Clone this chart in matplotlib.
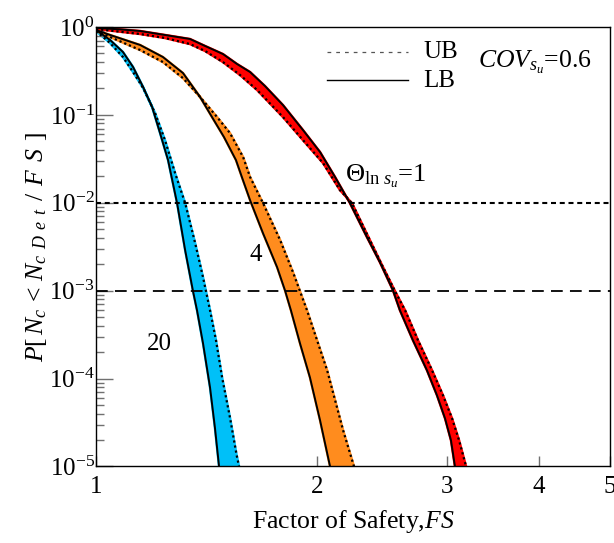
import matplotlib
matplotlib.use("Agg")
import matplotlib.pyplot as plt
from matplotlib.ticker import FixedLocator, NullLocator, LogLocator, NullFormatter

plt.rcParams['font.family'] = ['Liberation Serif', 'DejaVu Serif']
plt.rcParams['mathtext.fontset'] = 'custom'
plt.rcParams['mathtext.rm'] = 'Liberation Serif'
plt.rcParams['mathtext.it'] = 'Liberation Serif:italic'
plt.rcParams['mathtext.bf'] = 'Liberation Serif:bold'

# ---- data ----
# Theta = 20 (cyan)
fs20_lb = [1.000, 1.045, 1.088, 1.123, 1.159, 1.192, 1.222, 1.253, 1.289, 1.322, 1.355, 1.372, 1.398, 1.429, 1.451, 1.470]
p20_lb = [0.925, 0.711, 0.519, 0.350, 0.207, 0.123, 0.0621, 0.0306, 0.00989, 0.00288, 9.84e-4, 5.98e-4, 2.52e-4, 7.94e-5, 2.78e-5, 1.0e-5]
fs20_ub = [1.000, 1.045, 1.088, 1.123, 1.159, 1.203, 1.241, 1.281, 1.322, 1.364, 1.398, 1.429, 1.456, 1.484, 1.521, 1.553, 1.565]
p20_ub = [0.900, 0.657, 0.455, 0.307, 0.202, 0.105, 0.0516, 0.0217, 0.00989, 0.00347, 0.00142, 5.98e-4, 2.72e-4, 1.03e-4, 3.61e-5, 1.35e-5, 1.0e-5]

# Theta = 4 (orange)
fs4_lb = [1.000, 1.045, 1.148, 1.233, 1.313, 1.385, 1.438, 1.493, 1.550, 1.579, 1.620, 1.687, 1.763, 1.807, 1.841, 1.894, 1.954, 2.017, 2.081]
p4_lb = [0.925, 0.811, 0.624, 0.455, 0.299, 0.160, 0.0944, 0.0559, 0.0306, 0.0196, 0.0107, 0.00450, 0.00185, 0.00101, 5.98e-4, 2.52e-4, 1.03e-4, 3.34e-5, 1.0e-5]
fs4_ub = [1.000, 1.045, 1.148, 1.233, 1.313, 1.385, 1.461, 1.521, 1.585, 1.620, 1.687, 1.780, 1.853, 1.936, 2.062, 2.168, 2.243]
p4_ub = [0.900, 0.769, 0.547, 0.399, 0.262, 0.160, 0.0944, 0.0621, 0.0331, 0.0196, 0.00989, 0.00375, 0.00162, 5.98e-4, 1.24e-4, 2.57e-5, 1.0e-5]

# Theta = 1 (red)
fs1_lb = [1.000, 1.078, 1.148, 1.241, 1.342, 1.407, 1.488, 1.555, 1.620, 1.697, 1.796, 1.912, 2.017, 2.114, 2.215, 2.336, 2.433, 2.534, 2.590, 2.698, 2.819, 2.909, 2.983, 3.039, 3.077]
p1_lb = [0.975, 0.940, 0.900, 0.811, 0.730, 0.608, 0.492, 0.379, 0.307, 0.213, 0.129, 0.0671, 0.0377, 0.0196, 0.00989, 0.00406, 0.00210, 0.00101, 5.98e-4, 2.72e-4, 1.24e-4, 6.43e-5, 3.52e-5, 1.98e-5, 1.0e-5]
fs1_ub = [1.000, 1.148, 1.241, 1.342, 1.407, 1.488, 1.570, 1.656, 1.796, 1.912, 2.036, 2.147, 2.229, 2.358, 2.449, 2.551, 2.632, 2.741, 2.864, 2.964, 3.049, 3.117, 3.186]
p1_ub = [0.949, 0.832, 0.749, 0.640, 0.533, 0.399, 0.284, 0.192, 0.0944, 0.0516, 0.0283, 0.0139, 0.00989, 0.00375, 0.00195, 9.84e-4, 5.98e-4, 2.72e-4, 1.24e-4, 6.43e-5, 3.52e-5, 1.98e-5, 1.0e-5]

ref_levels = [1e-2, 1e-3]
x_ticks = [1, 2, 3, 4, 5]
x_ticklabels = ['1', '2', '3', '4', '5']
y_ticks = [1e-5, 1e-4, 1e-3, 1e-2, 1e-1, 1e0]
y_ticklabels = [r'$10^{-5}$', r'$10^{-4}$', r'$10^{-3}$', r'$10^{-2}$', r'$10^{-1}$', r'$10^{0}$']

bands = [
    (fs20_lb, p20_lb, fs20_ub, p20_ub, '#00C0F8'),
    (fs4_lb, p4_lb, fs4_ub, p4_ub, '#FF8C1E'),
    (fs1_lb, p1_lb, fs1_ub, p1_ub, '#FF0000'),
]

fig = plt.figure(figsize=(6.14, 5.43), dpi=100)
ax = fig.add_axes([0.1564, 0.1409, 0.8371, 0.8094])
ax.set_xscale('log')
ax.set_yscale('log')
ax.set_xlim(1, 5)
ax.set_ylim(1e-5, 1)

for fl, pl, fu, pu, col in bands:
    ax.fill(list(fl) + list(fu)[::-1], list(pl) + list(pu)[::-1],
            facecolor=col, edgecolor=col, linewidth=1.8, zorder=1)

for fl, pl, fu, pu, col in bands:
    ax.plot(fl, pl, color='black', lw=1.4, zorder=3, solid_capstyle='butt')
    ax.plot(fu, pu, color='black', lw=1.6, linestyle=(0, (1.0, 1.3)), zorder=3)

ax.axhline(ref_levels[0], color='black', lw=1.5, linestyle=(0, (2.4, 1.8)), zorder=2)
ax.axhline(ref_levels[1], color='black', lw=1.3, linestyle=(0, (6.5, 4.0)), zorder=2)

# ticks
ax.xaxis.set_major_locator(FixedLocator(x_ticks))
ax.xaxis.set_minor_locator(NullLocator())
ax.set_xticklabels(x_ticklabels)
ax.yaxis.set_major_locator(FixedLocator(y_ticks))
ax.yaxis.set_minor_locator(LogLocator(base=10, subs=range(2, 10), numticks=20))
ax.yaxis.set_minor_formatter(NullFormatter())
ax.set_yticklabels(y_ticklabels)

ax.tick_params(axis='x', which='major', direction='in', length=7, width=1,
               color='#707070', labelsize=18, pad=7, top=False)
ax.tick_params(axis='y', which='major', direction='in', length=12, width=1,
               color='#707070', labelsize=18, pad=1, right=False)
ax.tick_params(axis='y', which='minor', direction='in', length=6, width=1,
               color='#707070', right=False)
for s in ax.spines.values():
    s.set_linewidth(1.0)
    s.set_color('black')

ax.set_xlabel(r'Factor of Safety,$FS$', fontsize=18.5, labelpad=7)
ax.set_ylabel(r'$P[\,N_{c}\,<\,N_{c\ \,D\ \,e\ \,t}\;\,/\;\,F\;\,S\;\,]$',
              fontsize=18.5, labelpad=0)

# legend (manual)
tA = ax.transAxes
ax.plot([0.4494, 0.6070], [0.9431, 0.9431], transform=tA, color='#555555',
        lw=0.9, linestyle=(0, (3, 4)))
ax.plot([0.4494, 0.6070], [0.8794, 0.8794], transform=tA, color='black', lw=1.0)
ax.text(0.6362, 0.9431, 'UB', transform=tA, fontsize=18, va='center', ha='left')
ax.text(0.6362, 0.8771, 'LB', transform=tA, fontsize=18, va='center', ha='left')

ax.text(0.7432, 0.9067, r'$COV_{s_u}$=0.6', transform=tA, fontsize=18.5,
        va='baseline', ha='left')
ax.text(0.4844, 0.6473, r'$\Theta_{\mathrm{ln}\ s_u}$=1', transform=tA, fontsize=19,
        va='baseline', ha='left')
ax.text(0.3113, 0.4801, '4', transform=tA, fontsize=18, va='center', ha='center')
ax.text(0.1226, 0.2787, '20', transform=tA, fontsize=18, va='center', ha='center')

fig.savefig('out.png', dpi=100)
